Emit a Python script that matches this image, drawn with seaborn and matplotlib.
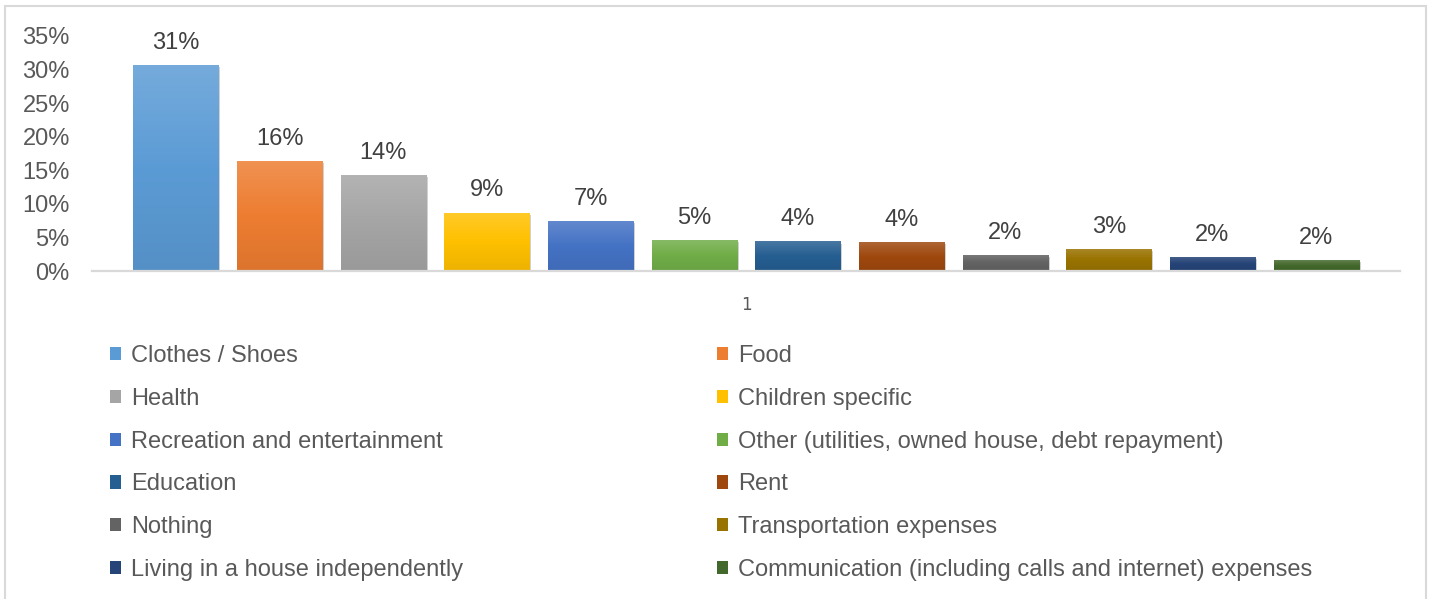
import numpy as np
import pandas as pd
import matplotlib
matplotlib.use("Agg")
import matplotlib.pyplot as plt
import matplotlib.patheffects as pe
from matplotlib.colors import to_rgb
from matplotlib.patches import Rectangle
from matplotlib.ticker import PercentFormatter
import seaborn as sns

# Survey answers: what the money was mainly spent on (share of respondents, %)
categories = [
    "Clothes / Shoes",
    "Food",
    "Health",
    "Children specific",
    "Recreation and entertainment",
    "Other (utilities, owned house, debt repayment)",
    "Education",
    "Rent",
    "Nothing",
    "Transportation expenses",
    "Living in a house independently",
    "Communication (including calls and internet) expenses",
]
shares = [30.7, 16.4, 14.3, 8.7, 7.4, 4.6, 4.4, 4.3, 2.4, 3.3, 2.1, 1.6]
group_labels = ["1"] * len(categories)
y_ticks = [0, 5, 10, 15, 20, 25, 30, 35]

colors = ["#5B9BD5", "#ED7D31", "#A5A5A5", "#FFC000", "#4472C4", "#70AD47",
          "#255E91", "#9E480E", "#636363", "#997300", "#264478", "#43682B"]

sns.set_theme(style="white")
plt.rcParams["font.family"] = ["Liberation Sans", "DejaVu Sans"]

W, H = 1433, 599
fig = plt.figure(figsize=(W / 100, H / 100), dpi=100)
ax = fig.add_axes([92 / W, 1 - 271 / H, 1308 / W, 235.2 / H])

df = pd.DataFrame({"group": group_labels, "category": categories, "share": shares})
sns.barplot(data=df, x="group", y="share", hue="category", hue_order=categories,
            palette=colors, saturation=1, width=0.951, gap=0.18, dodge=True,
            errorbar=None, legend=False, ax=ax)


def mix(c, other, t):
    c = np.array(to_rgb(c))
    return tuple(c * (1 - t) + np.array(other) * t)


# Vertical gradient fill and a light drop shadow on each bar
for cont, base in zip(ax.containers, colors):
    for patch in cont:
        x0, y0 = patch.get_x(), patch.get_y()
        w, h = patch.get_width(), patch.get_height()
        top = np.array(mix(base, (1, 1, 1), 0.16))
        mid = np.array(to_rgb(base))
        bot = np.array(mix(base, (0, 0, 0), 0.07))
        t = np.linspace(0, 1, 64)[:, None]
        grad = np.where(t < 0.5, top + (mid - top) * (t / 0.5),
                        mid + (bot - mid) * ((t - 0.5) / 0.5))
        img = ax.imshow(grad[:, None, :], extent=(x0, x0 + w, y0, y0 + h),
                        aspect="auto", origin="upper", interpolation="bilinear",
                        zorder=patch.get_zorder() + 0.1)
        img.set_clip_path(patch)
        patch.set_path_effects([
            pe.SimplePatchShadow(offset=(1.5, -1.5), shadow_rgbFace=(0, 0, 0), alpha=0.22),
            pe.Normal(),
        ])

ax.set_xlim(-0.5, 0.5)
ax.set_ylim(0, 35)

for cont, v in zip(ax.containers, shares):
    ax.bar_label(cont, labels=[f"{v:.0f}%"], padding=8, fontsize=17,
                 color="#404040", zorder=5)

ax.set_yticks(y_ticks)
ax.yaxis.set_major_formatter(PercentFormatter(xmax=100, decimals=0))
ax.set_xlabel("")
ax.set_ylabel("")
ax.grid(False)
for side in ("left", "top", "right"):
    ax.spines[side].set_visible(False)
ax.spines["bottom"].set_color("#D9D9D9")
ax.spines["bottom"].set_linewidth(1.6)
ax.tick_params(axis="y", length=0, pad=16, labelsize=17, labelcolor="#595959")
ax.tick_params(axis="x", length=0, pad=18, labelsize=12, labelcolor="#595959")
for lbl in ax.get_xticklabels():
    lbl.set_fontfamily(["DejaVu Sans"])

# Two-column legend laid out row by row
handles = [Rectangle((0, 0), 1, 1, facecolor=c, edgecolor="none") for c in colors]
legend_kw = dict(loc="upper left", frameon=False, fontsize=17, labelcolor="#595959",
                 handlelength=0.48, handleheight=0.48, handletextpad=0.4,
                 labelspacing=0.88, borderpad=0, borderaxespad=0)
fig.legend(handles[0::2], categories[0::2], bbox_to_anchor=(110 / W, 1 - 345 / H), **legend_kw)
fig.legend(handles[1::2], categories[1::2], bbox_to_anchor=(717 / W, 1 - 345 / H), **legend_kw)

# Chart-area frame
fig.patches.append(Rectangle((5 / W, -0.02), (1426 - 5) / W, (H - 6) / H + 0.02,
                             transform=fig.transFigure, fill=False,
                             edgecolor="#D9D9D9", linewidth=1.5))

fig.savefig("out.png", dpi=100, facecolor="white")
